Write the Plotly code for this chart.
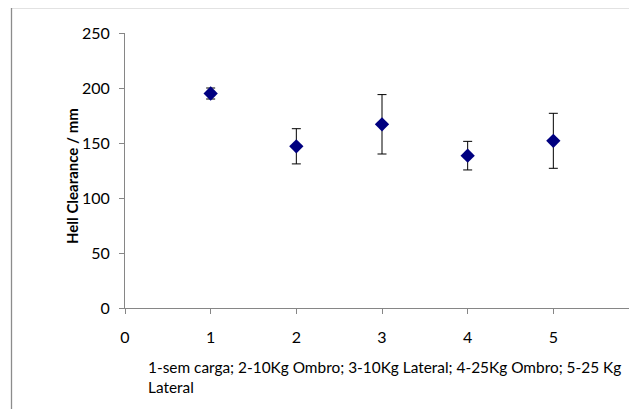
import plotly.graph_objects as go

conditions = [1, 2, 3, 4, 5]
clearance_mean = [195, 147, 167, 138.5, 152]
clearance_sd = [5, 16, 27, 13, 25]
x_ticks = [0, 1, 2, 3, 4, 5, 6]
y_ticks = [0, 50, 100, 150, 200, 250]
y_title = "Hell Clearance / mm"
x_note = "1-sem carga; 2-10Kg Ombro; 3-10Kg Lateral; 4-25Kg Ombro; 5-25 Kg<br>Lateral"

OFF = 8  # page body margin
W, H = 660, 420
L, T = 125 - OFF, 33 - OFF
B = H - (308 - OFF)
R = W - (639 - OFF)
PW, PH = W - L - R, H - T - B

font = "Lato, 'Open Sans', sans-serif"


def px_x(p):
    return (p - OFF - L) / PW


def px_y(p):
    return (H - B - (p - OFF)) / PH


fig = go.Figure()
fig.add_trace(go.Scatter(
    x=conditions, y=clearance_mean, mode="markers",
    marker=dict(symbol="diamond", size=11, color="#000080"),
    error_y=dict(type="data", array=clearance_sd, visible=True,
                 color="#000000", thickness=1, width=4.5),
    showlegend=False,
))

fig.add_shape(type="rect", xref="paper", yref="paper",
              x0=px_x(11.5), x1=px_x(W + 40), y0=px_y(7.5), y1=px_y(H + 40),
              line=dict(color="#8c8c8c", width=1.3), fillcolor="rgba(0,0,0,0)", layer="below")

fig.add_annotation(text="<b>" + y_title + "</b>", xref="paper", yref="paper",
                   x=px_x(72), y=px_y(176), textangle=-90, showarrow=False,
                   font=dict(family=font, size=15, color="#000000"),
                   xanchor="center", yanchor="middle")

fig.add_annotation(text=x_note, xref="paper", yref="paper",
                   x=px_x(146), y=px_y(356), showarrow=False, align="left",
                   font=dict(family=font, size=15.4, color="#000000"),
                   xanchor="left", yanchor="top")

fig.update_layout(
    width=W, height=H, autosize=False,
    margin=dict(l=L, r=R, t=T, b=B, pad=0),
    paper_bgcolor="white", plot_bgcolor="white",
    xaxis=dict(range=[0, 6], tickvals=x_ticks, ticks="outside", ticklen=5,
               tickcolor="#868686", showline=True, linecolor="#868686", linewidth=1,
               showgrid=False, zeroline=False, ticklabelstandoff=10,
               tickfont=dict(family=font, size=16, color="#000000")),
    yaxis=dict(range=[0, 250], tickvals=y_ticks, ticks="outside", ticklen=5,
               tickcolor="#868686", showline=True, linecolor="#868686", linewidth=1,
               showgrid=False, zeroline=False, ticklabelstandoff=6,
               tickfont=dict(family=font, size=16, color="#000000")),
)

fig.write_html("out.html")
